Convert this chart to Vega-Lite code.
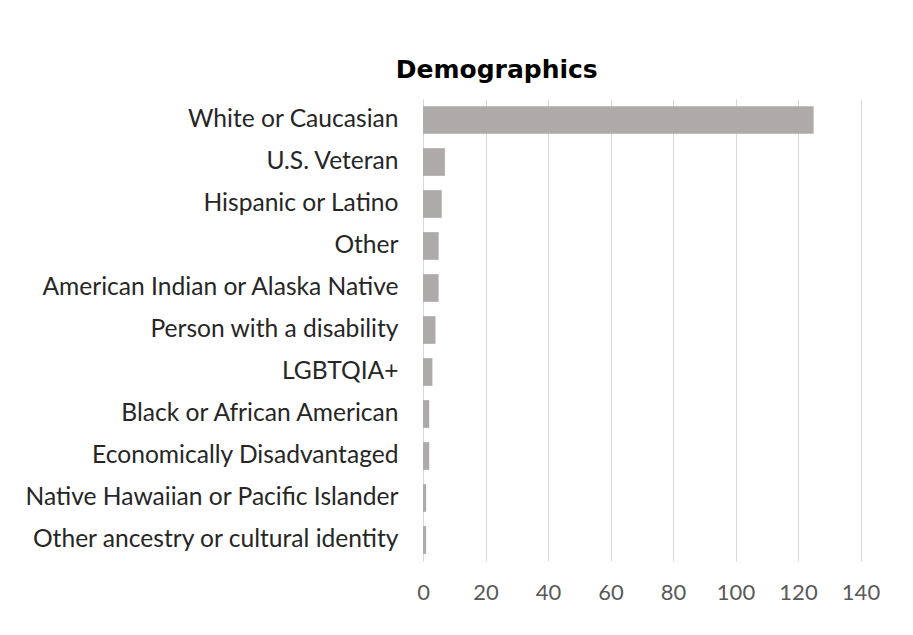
{
  "$schema": "https://vega.github.io/schema/vega-lite/v6.json",
  "width": 437.5,
  "height": 462,
  "autosize": {"type": "none"},
  "padding": {"left": 423, "top": 99, "right": 52.5, "bottom": 74},
  "background": "#ffffff",
  "title": {
    "text": "Demographics",
    "anchor": "middle",
    "frame": "group",
    "dx": -145,
    "offset": 16,
    "font": "DejaVu Sans",
    "fontSize": 25,
    "fontWeight": "bold",
    "color": "#000000"
  },
  "data": {
    "values": [
      {"group": "White or Caucasian", "count": 125},
      {"group": "U.S. Veteran", "count": 7},
      {"group": "Hispanic or Latino", "count": 6},
      {"group": "Other", "count": 5},
      {"group": "American Indian or Alaska Native", "count": 5},
      {"group": "Person with a disability", "count": 4},
      {"group": "LGBTQIA+", "count": 3},
      {"group": "Black or African American", "count": 2},
      {"group": "Economically Disadvantaged", "count": 2},
      {"group": "Native Hawaiian or Pacific Islander", "count": 1},
      {"group": "Other ancestry or cultural identity", "count": 1}
    ]
  },
  "mark": {"type": "bar", "color": "#aeaaaa"},
  "encoding": {
    "y": {
      "field": "group",
      "type": "nominal",
      "sort": null,
      "scale": {"paddingInner": 0.34, "paddingOuter": 0.17},
      "axis": {
        "title": null,
        "domain": false,
        "ticks": false,
        "labelPadding": 25,
        "labelFont": "Lato",
        "labelFontSize": 24.6,
        "labelColor": "#262626",
        "labelLimit": 600
      }
    },
    "x": {
      "field": "count",
      "type": "quantitative",
      "scale": {"domain": [0, 140], "nice": false},
      "axis": {
        "title": null,
        "values": [0, 20, 40, 60, 80, 100, 120, 140],
        "domain": false,
        "ticks": false,
        "grid": true,
        "gridColor": "#d9d9d9",
        "gridWidth": 1,
        "labelPadding": 21,
        "labelFont": "Lato",
        "labelFontSize": 22,
        "labelColor": "#595959",
        "labelFlush": false
      }
    }
  },
  "config": {
    "view": {"stroke": null}
  }
}
